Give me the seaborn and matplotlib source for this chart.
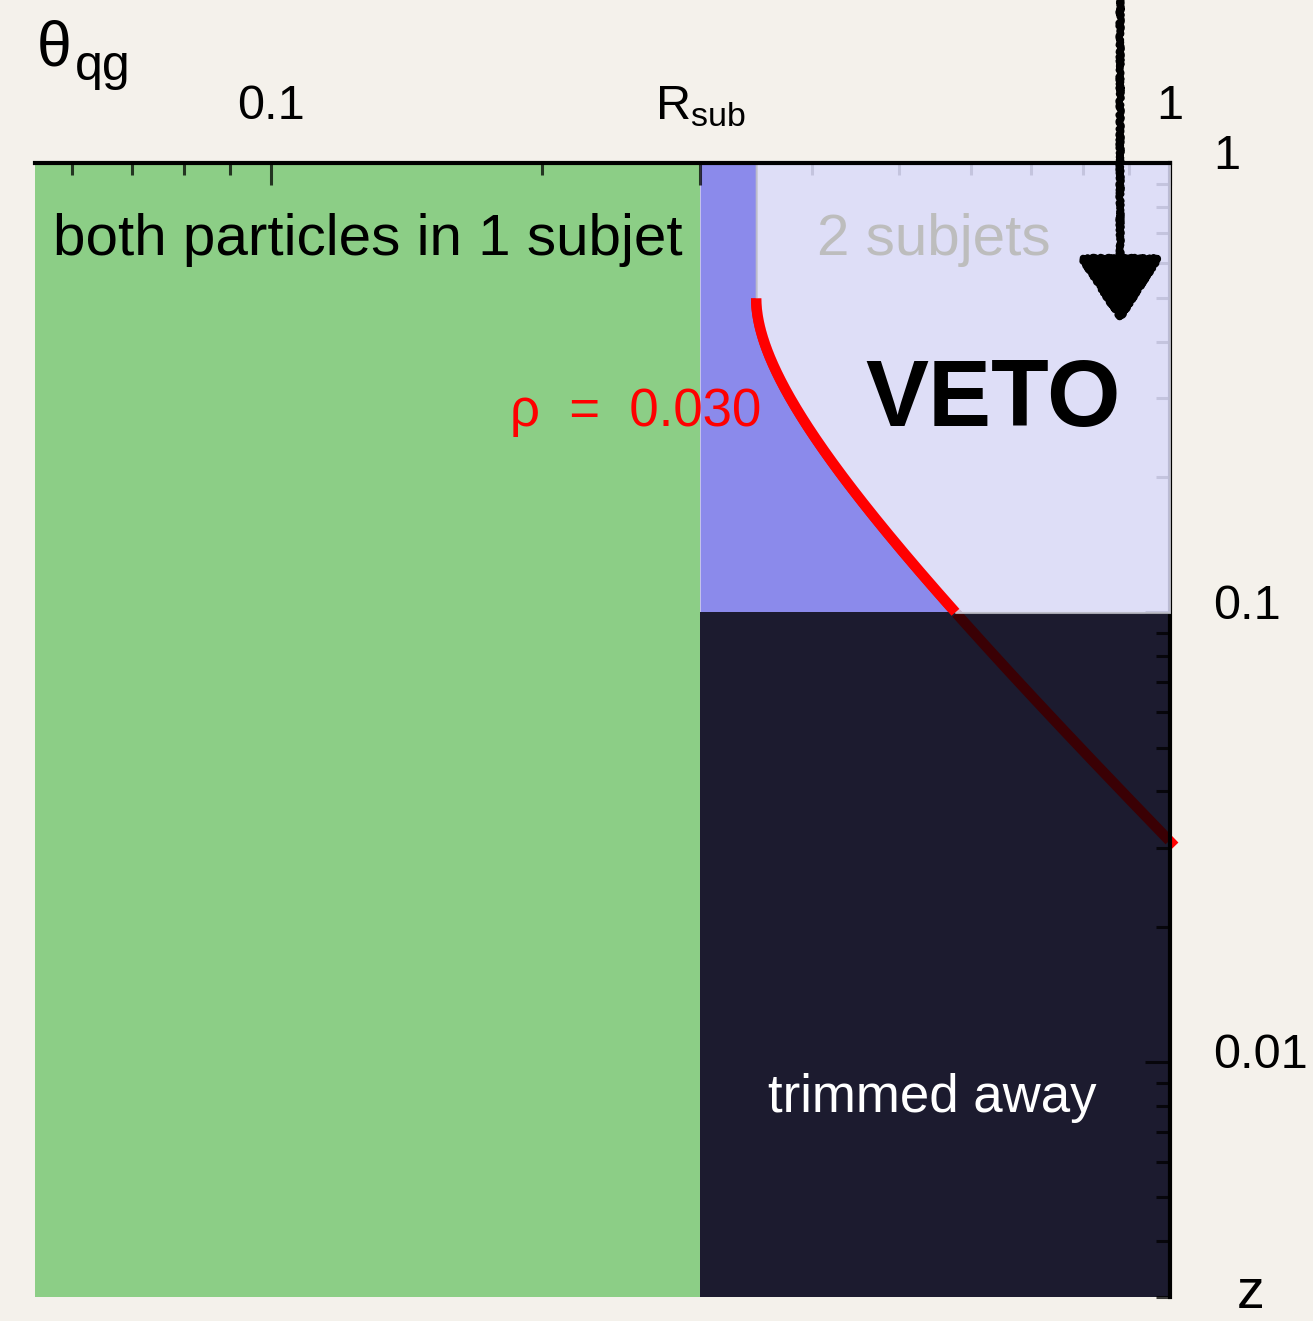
import numpy as np
import pandas as pd
import matplotlib
matplotlib.use("Agg")
import matplotlib.pyplot as plt
from matplotlib.ticker import FixedLocator, LogLocator, NullFormatter, FixedFormatter
from matplotlib.transforms import ScaledTranslation
import seaborn as sns

# Phase-space boundaries (theta_qg horizontally, z vertically, both log)
theta_limits = [0.0546, 1.0]
z_limits = [0.003, 1.0]
r_sub = 0.3          # subjet radius
z_cut = 0.1          # trimming cut
rho = 0.030          # contour rho = z (1 - z) theta^2
theta_tip = 1.012    # curve runs just past the frame

theta_ticks = [0.1, r_sub, 1.0]
theta_ticklabels = ["0.1", r"$\mathrm{R}_{\mathrm{sub}}$", "1"]
z_ticks = [0.01, 0.1, 1.0]
z_ticklabels = ["0.01", "0.1", "1"]

bg = "#f4f1eb"
green = "#8cce86"
blue = "#8b8aeb"
lavender = "#dbdbfa"
dark = "#1c1b2f"
red = "#ff0000"
dark_red = "#3a0004"

sns.set_theme(style="white")
plt.rcParams["font.family"] = ["Liberation Sans", "DejaVu Sans"]
plt.rcParams["mathtext.fontset"] = "custom"
plt.rcParams["mathtext.rm"] = "Liberation Sans"
plt.rcParams["mathtext.it"] = "Liberation Sans:italic"
plt.rcParams["mathtext.bf"] = "Liberation Sans:bold"

fig = plt.figure(figsize=(13.13, 13.21), dpi=100, facecolor=bg)
ax = fig.add_axes([35 / 1313, 1 - 1297 / 1321, 1135 / 1313, 1134 / 1321])
ax.set_facecolor("none")
ax.set_xscale("log")
ax.set_yscale("log")
ax.set_xlim(*theta_limits)
ax.set_ylim(*z_limits)


def theta_of_z(z):
    return np.sqrt(rho / (z * (1.0 - z)))


# the rho contour from z = 1/2 down to where it leaves the frame
c_tip = rho / theta_tip ** 2
z_end = (1.0 - np.sqrt(1.0 - 4.0 * c_tip)) / 2.0
z_curve = np.geomspace(z_end, 0.5, 500)
curve = pd.DataFrame({"theta": theta_of_z(z_curve), "z": z_curve})
upper = curve[curve["z"] >= z_cut]
lower = curve[(curve["z"] <= z_cut) & (curve["theta"] <= 1.0)]

# boundary of the vetoed region above the trimming cut
z_fill = np.geomspace(z_cut, 1.0, 500)
theta_bound = theta_of_z(np.minimum(z_fill, 0.5))

# regions
ax.fill_between([theta_limits[0], r_sub], z_limits[0], z_limits[1],
                color=green, lw=0, zorder=1.0)
ax.fill_betweenx(z_fill, r_sub, theta_bound, color=blue, lw=0, zorder=1.2)

sns.lineplot(data=curve, x="theta", y="z", sort=False, estimator=None,
             color=red, lw=7.5, solid_capstyle="butt", clip_on=False,
             zorder=1.9, ax=ax)

ax.fill_between([r_sub, 1.0], z_limits[0], z_cut, color=dark, lw=0, zorder=2.0)
sns.lineplot(data=lower, x="theta", y="z", sort=False, estimator=None,
             color=dark_red, lw=7.5, solid_capstyle="butt", zorder=2.1, ax=ax)

ax.fill_betweenx(z_fill, theta_bound, 1.0, facecolor=lavender, alpha=0.86,
                 edgecolor="#bdbdc6", lw=1.5, zorder=3.0)
sns.lineplot(data=upper, x="theta", y="z", sort=False, estimator=None,
             color=red, lw=7.5, solid_capstyle="butt", zorder=3.5, ax=ax)

# axes: ticks on top and right, pointing inward
ax.xaxis.set_major_locator(FixedLocator(theta_ticks))
ax.xaxis.set_major_formatter(FixedFormatter(theta_ticklabels))
ax.xaxis.set_minor_locator(LogLocator(base=10, subs=np.arange(2, 10), numticks=20))
ax.xaxis.set_minor_formatter(NullFormatter())
ax.yaxis.set_major_locator(FixedLocator(z_ticks))
ax.yaxis.set_major_formatter(FixedFormatter(z_ticklabels))
ax.yaxis.set_minor_locator(LogLocator(base=10, subs=np.arange(2, 10), numticks=20))
ax.yaxis.set_minor_formatter(NullFormatter())

tick_col = (0, 0, 0, 0.75)
ax.tick_params(axis="x", which="both", direction="in", top=True, bottom=False,
               labeltop=True, labelbottom=False, color=tick_col, width=2.2,
               labelsize=35, labelcolor="black", pad=31.5)
ax.tick_params(axis="x", which="major", length=16)
ax.tick_params(axis="x", which="minor", length=8.5)
ax.tick_params(axis="y", which="both", direction="in", right=True, left=False,
               labelright=True, labelleft=False, color=tick_col, width=2.2,
               labelsize=35, labelcolor="black", pad=31)
ax.tick_params(axis="y", which="major", length=18)
ax.tick_params(axis="y", which="minor", length=10)
ax.set_axisbelow(False)

for tick in ax.xaxis.get_major_ticks():
    tick.label2.set_va("baseline")
    if "R" in tick.label2.get_text():
        tick.label2.set_fontsize(40)
lift = ScaledTranslation(0, 8 / 72, fig.dpi_scale_trans)
for tick in ax.yaxis.get_major_ticks():
    tick.label2.set_transform(tick.label2.get_transform() + lift)
ax.set_xlabel("")
ax.set_ylabel("")

for side in ["left", "bottom"]:
    ax.spines[side].set_visible(False)
for side in ["top", "right"]:
    ax.spines[side].set_visible(True)
    ax.spines[side].set_color("black")
    ax.spines[side].set_linewidth(3)
ax.spines["top"].set_zorder(4)
ax.grid(False)

# axis titles
ax.text(0.0018, 1.0864, "θ", transform=ax.transAxes,
        ha="left", va="baseline", fontsize=45, color="black")
ax.text(0.0352, 1.0732, "qg", transform=ax.transAxes,
        ha="left", va="baseline", fontsize=36, color="black")
ax.text(1.0714, -0.0203, "z", transform=ax.transAxes, ha="center",
        va="bottom", fontsize=40, color="black")

# region annotations
ax.text(0.0159, 0.9189, "both particles in 1 subjet", transform=ax.transAxes,
        ha="left", va="baseline", fontsize=42, color="black", zorder=5)
ax.text(0.689, 0.9189, "2 subjets", transform=ax.transAxes,
        ha="left", va="baseline", fontsize=42, color="#bdbdbd", zorder=5)
ax.text(0.7313, 0.768, "VETO", transform=ax.transAxes, ha="left",
        va="baseline", fontsize=68, fontweight="bold", color="black", zorder=5)
ax.text(0.4185, 0.768, f"ρ  =  {rho:.3f}", transform=ax.transAxes,
        ha="left", va="baseline", fontsize=38, color=red, zorder=5)
ax.text(0.6458, 0.1631, "trimmed away", transform=ax.transAxes,
        ha="left", va="baseline", fontsize=38, color="white", zorder=5)

# hand-drawn arrow coming in from above
ann = ax.annotate("", xy=(0.88, 0.44), xytext=(0.88, 2.8),
                  xycoords="data", textcoords="data", annotation_clip=False,
                  arrowprops=dict(arrowstyle="-|>,head_length=1.4,head_width=0.9",
                                  mutation_scale=30, lw=5, color="black",
                                  shrinkA=0, shrinkB=0),
                  zorder=6)
ann.arrow_patch.set_sketch_params(scale=1.3, length=6, randomness=4)

fig.savefig("out.png", dpi=100, facecolor=bg)
